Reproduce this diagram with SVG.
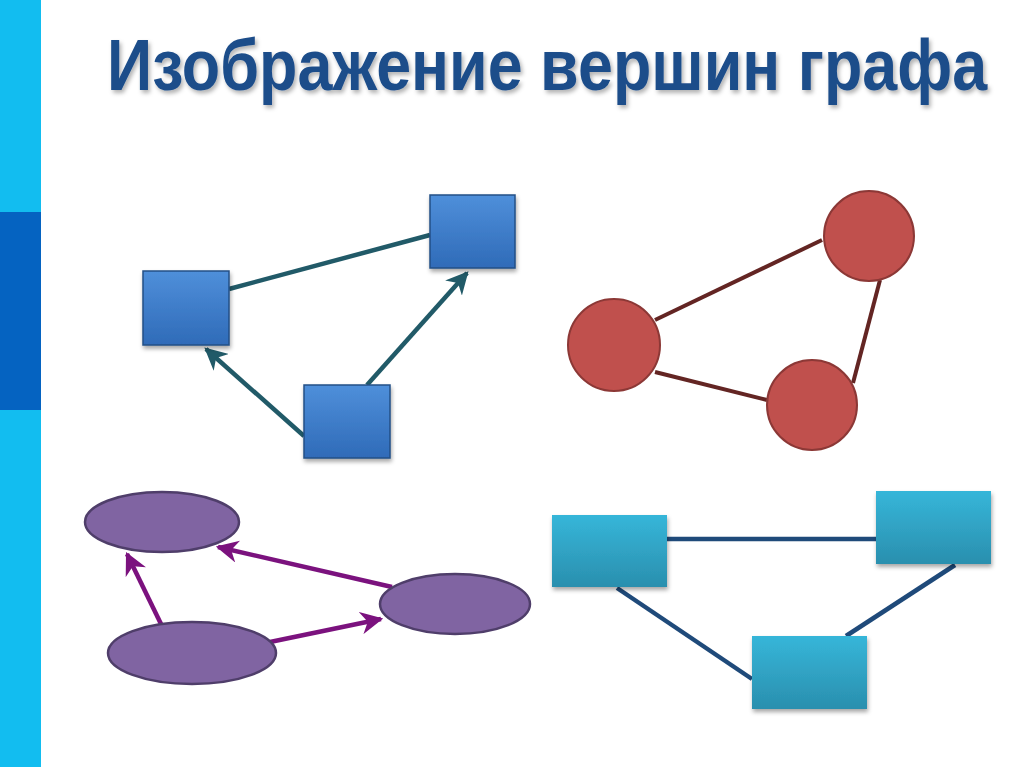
<svg xmlns="http://www.w3.org/2000/svg" width="1024" height="767" viewBox="0 0 1024 767">
<defs>
<style>
.title{font-family:"Liberation Sans",Arial,sans-serif;font-weight:bold;font-size:72px;fill:#1F4E8A}
.sq{fill:url(#gBlue);stroke:#234F86;stroke-width:1.5}
.circ{fill:#C0504D;stroke:#8C3836;stroke-width:2}
.ell{fill:#8064A2;stroke:#4F3E6A;stroke-width:2.5}
.cy{fill:url(#gCyan)}
.e-teal{stroke:#215A68;stroke-width:4.5;fill:none}
.e-red{stroke:#632523;stroke-width:4;fill:none}
.e-pur{stroke:#7B127E;stroke-width:4.5;fill:none}
.e-navy{stroke:#1F4A7A;stroke-width:4.5;fill:none}
</style>
<linearGradient id="gBlue" x1="0" y1="0" x2="0" y2="1">
<stop offset="0" stop-color="#4F8FDA"/>
<stop offset="1" stop-color="#2F6BB8"/>
</linearGradient>
<linearGradient id="gCyan" x1="0" y1="0" x2="0" y2="1">
<stop offset="0" stop-color="#36B6D9"/>
<stop offset="1" stop-color="#2A8FAE"/>
</linearGradient>
<filter id="sh" x="-20%" y="-20%" width="140%" height="150%">
<feDropShadow dx="1" dy="3" stdDeviation="2" flood-color="#000" flood-opacity="0.35"/>
</filter>
<filter id="tsh" x="-5%" y="-40%" width="110%" height="190%">
<feDropShadow dx="2" dy="3" stdDeviation="2" flood-color="#000" flood-opacity="0.3"/>
</filter>
<marker id="aTeal" viewBox="0 0 10 10" refX="9" refY="5" markerWidth="5" markerHeight="5" orient="auto" markerUnits="strokeWidth">
<path d="M0,0 L10,5 L0,10 L3,5 z" fill="#215A68"/>
</marker>
<marker id="aPur" viewBox="0 0 10 10" refX="9" refY="5" markerWidth="5" markerHeight="5" orient="auto" markerUnits="strokeWidth">
<path d="M0,0 L10,5 L0,10 L3,5 z" fill="#7B127E"/>
</marker>
</defs>
<rect width="1024" height="767" fill="#FFFFFF"/>
<g id="sidebar">
<rect x="0" y="0" width="41" height="767" fill="#12BDF0"/>
<rect x="0" y="212" width="41" height="198" fill="#0563C1"/>
</g>
<g id="title" filter="url(#tsh)">
<text class="title" transform="translate(107,90) scale(0.873,1)" x="0" y="0">Изображение вершин графа</text>
</g>
<g id="connectors">
<line class="e-teal" x1="229" y1="289" x2="430" y2="235"/>
<line class="e-teal" x1="304" y1="436" x2="206" y2="349" marker-end="url(#aTeal)"/>
<line class="e-teal" x1="367" y1="385" x2="467" y2="273" marker-end="url(#aTeal)"/>
<line class="e-red" x1="655" y1="320" x2="822" y2="240"/>
<line class="e-red" x1="655" y1="372" x2="767" y2="400"/>
<line class="e-red" x1="880" y1="280" x2="853" y2="383"/>
<line class="e-pur" x1="161" y1="624" x2="127" y2="554" marker-end="url(#aPur)"/>
<line class="e-pur" x1="392" y1="587" x2="218" y2="547" marker-end="url(#aPur)"/>
<line class="e-pur" x1="270" y1="642" x2="381" y2="619" marker-end="url(#aPur)"/>
<line class="e-navy" x1="667" y1="539" x2="876" y2="539"/>
<line class="e-navy" x1="617" y1="588" x2="752" y2="679"/>
<line class="e-navy" x1="955" y1="565" x2="846" y2="636"/>
</g>
<g id="sq1"><rect class="sq" x="143" y="271" width="86" height="74" filter="url(#sh)"/></g>
<g id="sq2"><rect class="sq" x="430" y="195" width="85" height="73" filter="url(#sh)"/></g>
<g id="sq3"><rect class="sq" x="304" y="385" width="86" height="73" filter="url(#sh)"/></g>
<g id="c1"><circle class="circ" cx="614" cy="345" r="46"/></g>
<g id="c2"><circle class="circ" cx="869" cy="236" r="45"/></g>
<g id="c3"><circle class="circ" cx="812" cy="405" r="45"/></g>
<g id="el1"><ellipse class="ell" cx="162" cy="522" rx="77" ry="30"/></g>
<g id="el2"><ellipse class="ell" cx="455" cy="604" rx="75" ry="30"/></g>
<g id="el3"><ellipse class="ell" cx="192" cy="653" rx="84" ry="31"/></g>
<g id="r1"><rect class="cy" x="552" y="515" width="115" height="72" filter="url(#sh)"/></g>
<g id="r2"><rect class="cy" x="876" y="491" width="115" height="73" filter="url(#sh)"/></g>
<g id="r3"><rect class="cy" x="752" y="636" width="115" height="73" filter="url(#sh)"/></g>
</svg>
